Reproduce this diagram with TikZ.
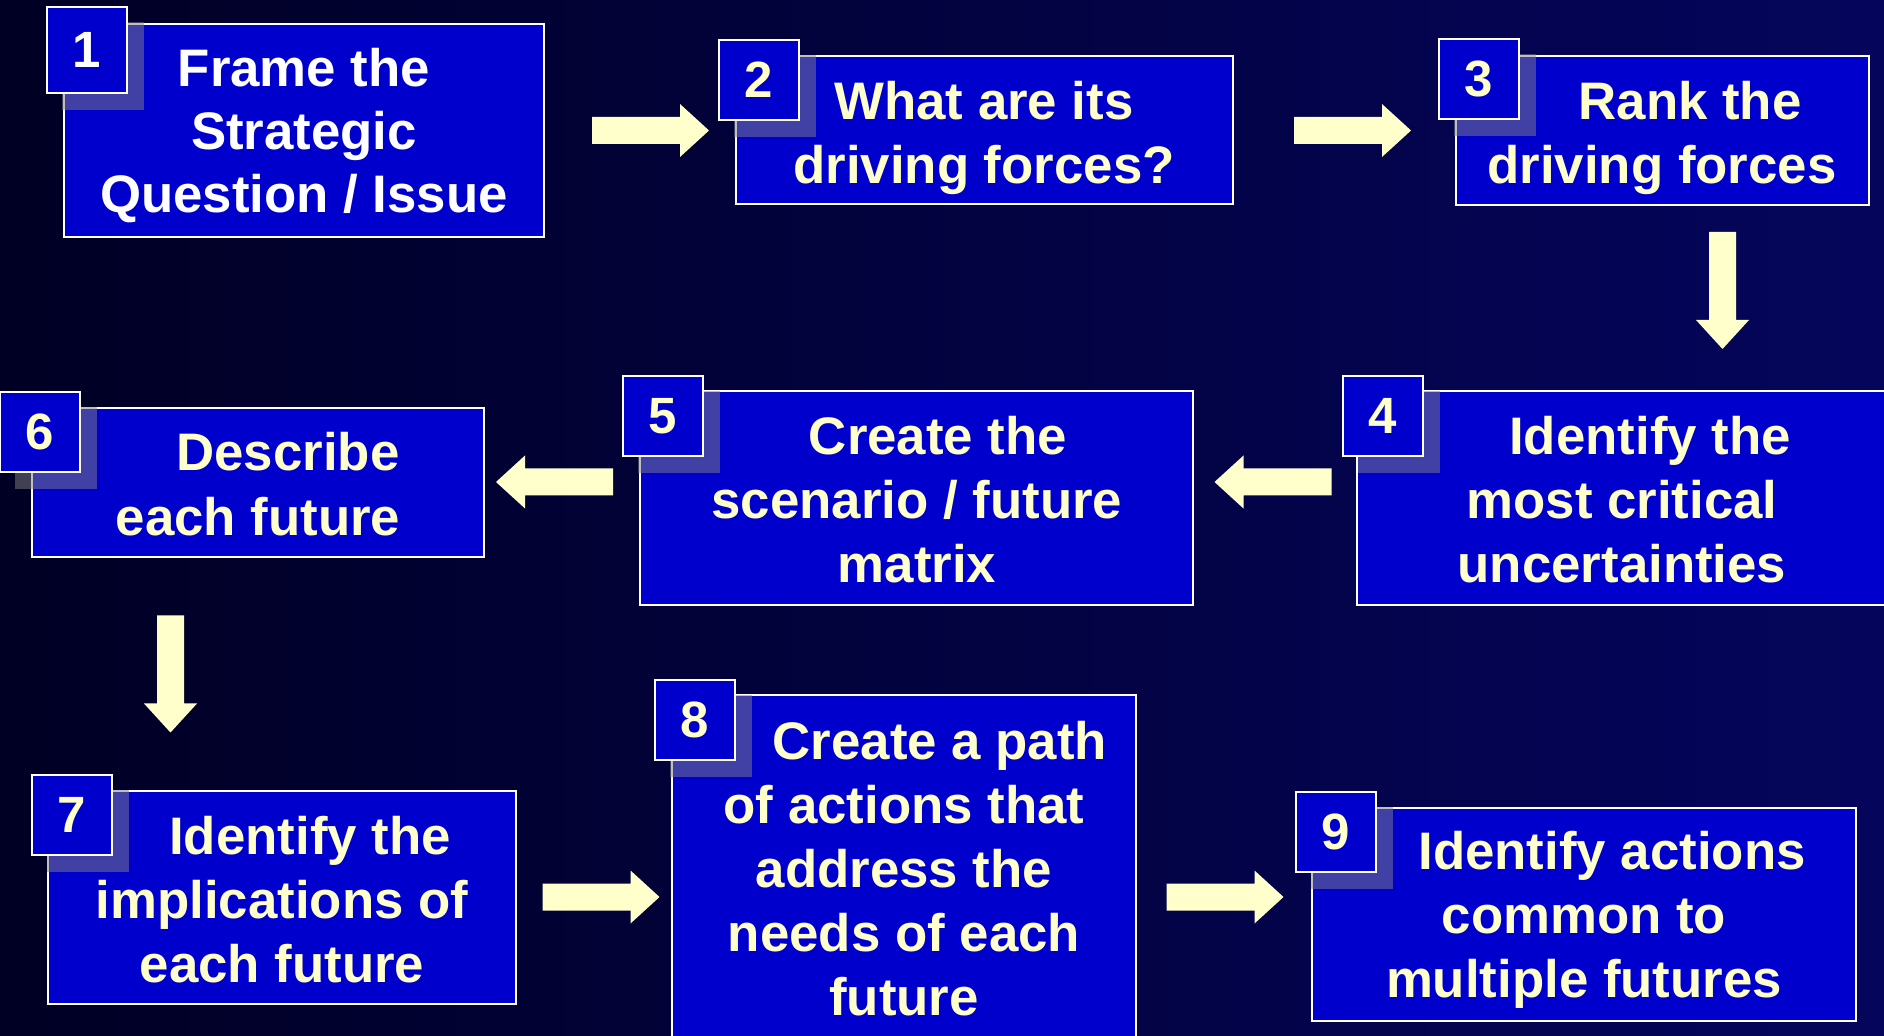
\documentclass[tikz,border=0pt]{standalone}
\usepackage{fontspec}
\setmainfont{Liberation Sans}
\usetikzlibrary{fit}
\definecolor{bgL}{RGB}{0,0,36}
\definecolor{bgR}{RGB}{5,5,92}
\definecolor{boxblue}{RGB}{0,0,204}
\definecolor{cream}{RGB}{255,255,204}
\tikzset{
  mainbox/.style={draw=white, line width=1.1pt, fill=boxblue, inner sep=0pt},
  numbox/.style={draw=white, line width=1.1pt, fill=boxblue, inner sep=0pt},
  shadowc/.style={fill=gray, fill opacity=0.5},
  linetext/.style={text=cream, font=\fontsize{26.4}{32}\selectfont\bfseries, inner sep=0pt, anchor=base},
  numtext/.style={text=cream, font=\fontsize{25.5}{30}\selectfont\bfseries, inner sep=0pt},
  arrowc/.style={fill=cream},
  blockarrow/.pic={
    \fill[arrowc] (-58.5,-13.5) -- (29.5,-13.5) -- (29.5,-26.5) -- (58.5,0)
      -- (29.5,26.5) -- (29.5,13.5) -- (-58.5,13.5) -- cycle;
  }
}
% name, x0, y0, x1, y1, number-box x, number-box y, number-box height, digit
\newcommand\stepbox[9]{%
  \node[mainbox, fit={(#2,#3) (#4,#5)}] (#1) {};
  \fill[shadowc] (#6+15,#7+15) rectangle (#6+97,#7+#8+17);
  \node[numbox, fit={(#6,#7) (#6+80,#7+#8)}] (#1n) {};
  \node[numtext] (#1d) at (#1n.center) {#9};
}
\begin{document}
\begin{tikzpicture}[x=0.5pt,y=-0.5pt]
\useasboundingbox (0,0) rectangle (1884,1036);
\clip (0,0) rectangle (1884,1036);
\shade[left color=bgL, right color=bgR] (0,0) rectangle (1884,1036);

% boxes
\stepbox{b1}{64}{24}{544}{237}{47}{7}{86}{\textcolor{white}{1}}
\stepbox{b2}{736}{56}{1233}{204}{719}{40}{80}{2}
\stepbox{b3}{1456}{56}{1869}{205}{1439}{39}{80}{3}
\stepbox{b4}{1357}{391}{1892}{605}{1343}{376}{80}{4}
\stepbox{b5}{640}{391}{1193}{605}{623}{376}{80}{5}
\stepbox{b6}{32}{408}{484}{557}{0}{392}{80}{6}
\stepbox{b7}{48}{791}{516}{1004}{32}{775}{80}{7}
\stepbox{b8}{672}{695}{1136}{1050}{655}{680}{80}{8}
\stepbox{b9}{1312}{808}{1856}{1021}{1296}{792}{80}{9}

% texts
\node[linetext, text=white] (t1a) at (304,86.5) {Frame the};
\node[linetext, text=white] (t1b) at (304,150) {Strategic};
\node[linetext, text=white] (t1c) at (304,213) {Question / Issue};

\node[linetext] (t2a) at (984,120) {What are its};
\node[linetext] (t2b) at (984,184) {driving forces?};

\node[linetext] (t3a) at (1690,120) {Rank the};
\node[linetext] (t3b) at (1662,184) {driving forces};

\node[linetext] (t4a) at (1650,455) {Identify the};
\node[linetext] (t4b) at (1622,519) {most critical};
\node[linetext] (t4c) at (1622,583) {uncertainties};

\node[linetext] (t5a) at (938,455) {Create the};
\node[linetext] (t5b) at (917,519) {scenario / future};
\node[linetext] (t5c) at (917,583) {matrix};

\node[linetext] (t6a) at (288,471) {Describe};
\node[linetext] (t6b) at (258,536) {each future};

\node[linetext] (t7a) at (310,854) {Identify the};
\node[linetext] (t7b) at (282,918) {implications of};
\node[linetext] (t7c) at (282,982) {each future};

\node[linetext] (t8a) at (940,759) {Create a path};
\node[linetext] (t8b) at (904,823) {of actions that};
\node[linetext] (t8c) at (904,887) {address the};
\node[linetext] (t8d) at (904,951) {needs of each};
\node[linetext] (t8e) at (904,1015) {future};

\node[linetext] (t9a) at (1612,869) {Identify actions};
\node[linetext] (t9b) at (1584,933) {common to};
\node[linetext] (t9c) at (1584,997) {multiple futures};

% block arrows
\pic at (650.5,130.5) {blockarrow};
\pic at (1352.5,130.5) {blockarrow};
\pic[rotate=-90] at (1722.5,290.5) {blockarrow};
\pic[rotate=180] at (1273,482) {blockarrow};
\pic[rotate=180] at (554.5,482) {blockarrow};
\pic[rotate=-90] at (170.5,674) {blockarrow};
\pic at (601,897) {blockarrow};
\pic at (1225,897) {blockarrow};
\end{tikzpicture}
\end{document}
